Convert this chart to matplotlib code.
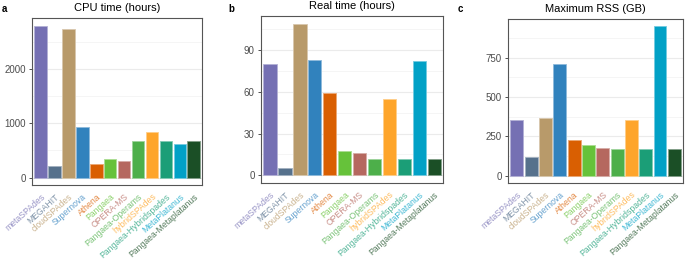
import matplotlib as mpl
mpl.use('Agg')
import matplotlib.pyplot as plt
from matplotlib.colors import to_rgb
from matplotlib.ticker import MultipleLocator
import numpy as np

plt.rcParams['font.family'] = ['Liberation Sans', 'DejaVu Sans']

tools = ['metaSPAdes', 'MEGAHIT', 'cloudSPAdes', 'Supernova', 'Athena', 'Pangaea',
         'OPERA-MS', 'Pangaea-Operams', 'hybridSPAdes', 'Pangaea-Hybridspades',
         'MetaPlatanus', 'Pangaea-Metaplatanus']
colors = ['#7570b3', '#56718c', '#b89a6a', '#3182bd', '#d95f02', '#66c23a',
          '#b5685f', '#4daf4a', '#fea52b', '#1b9e77', '#02a1c6', '#1b4f26']

cpu_time = [2795, 220, 2740, 920, 250, 340, 300, 670, 835, 670, 615, 670]
real_time = [79.7, 5.0, 108.6, 82.8, 58.9, 17.4, 16.0, 11.5, 54.9, 11.5, 82.1, 11.5]
max_rss = [356, 121, 365, 710, 225, 192, 173, 171, 354, 171, 948, 171]

panels = [
    ('a', 'CPU time (hours)', cpu_time, 1000, [0.047, 0.288, 0.248, 0.643], 0.002),
    ('b', 'Real time (hours)', real_time, 30, [0.381, 0.296, 0.266, 0.642], 0.333),
    ('c', 'Maximum RSS (GB)', max_rss, 250, [0.742, 0.296, 0.255, 0.631], 0.668),
]


def lighten(c, f=0.45):
    r = np.array(to_rgb(c))
    return tuple(r + (1 - r) * f)


fig = plt.figure(figsize=(6.85, 2.6), dpi=100)

for letter, title, vals, step, pos, lx in panels:
    ax = fig.add_axes(pos)
    x = np.arange(len(tools))
    ax.bar(x, vals, width=0.9, color=colors,
           edgecolor=[lighten(c) for c in colors], linewidth=0.6, zorder=3)
    top = max(vals)
    ax.set_ylim(-0.05 * top, top * 1.05)
    ax.set_xlim(-0.6, len(tools) - 0.4)
    ax.yaxis.set_major_locator(MultipleLocator(step))
    ax.yaxis.set_minor_locator(MultipleLocator(step / 2))
    ax.grid(True, axis='y', which='major', color='#ebebeb', linewidth=0.8, zorder=0)
    ax.grid(True, axis='y', which='minor', color='#f2f2f2', linewidth=0.5, zorder=0)
    ax.tick_params(axis='y', which='minor', length=0)
    ax.tick_params(axis='y', which='major', length=2.5, width=0.6, color='#333333',
                   labelsize=7, labelcolor='#4d4d4d', pad=2)
    ax.tick_params(axis='x', length=0, pad=5)
    ax.set_xticks(x)
    ax.set_xticklabels(tools, rotation=42, ha='right', rotation_mode='anchor', fontsize=6.2)
    for lab, c in zip(ax.get_xticklabels(), colors):
        lab.set_color(lighten(c, 0.25))
    for s in ax.spines.values():
        s.set_color('#555555')
        s.set_linewidth(0.8)
    ax.set_title(title, fontsize=8, pad=5)
    fig.text(lx, 0.985, letter, fontsize=7, fontweight='bold', va='top')

plt.savefig('out.png', dpi=100)
plt.close()
